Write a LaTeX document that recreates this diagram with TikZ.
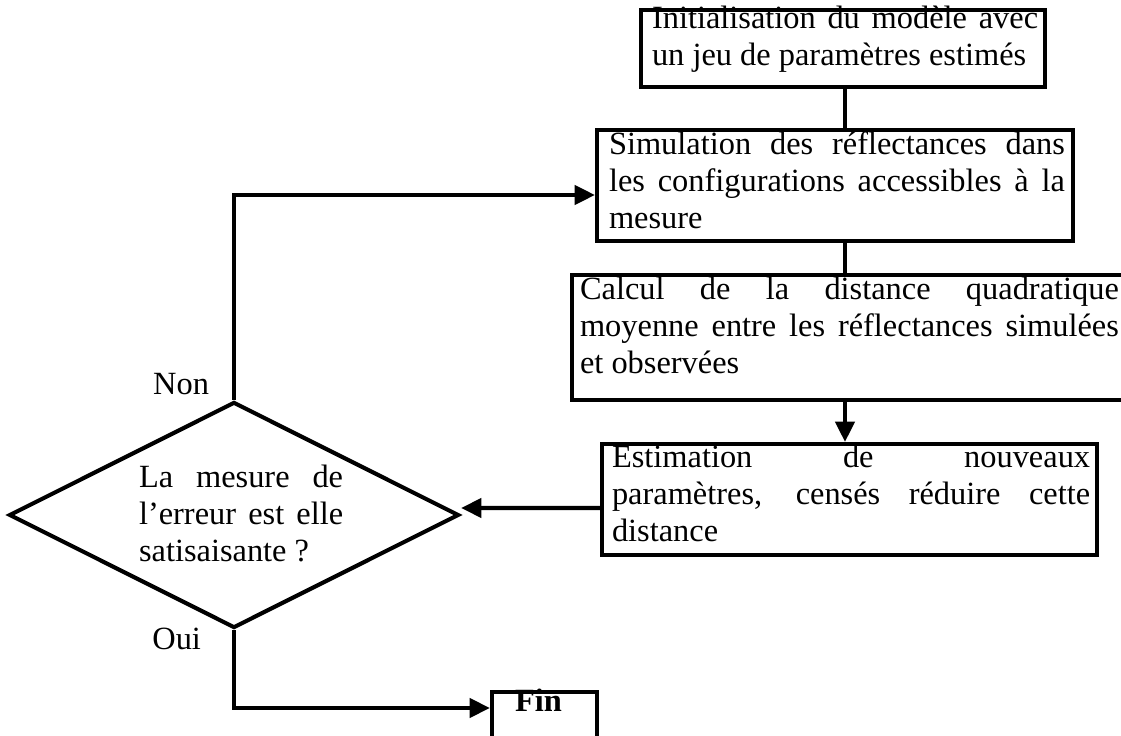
\documentclass[tikz,border=0pt]{standalone}
\usepackage{fontspec}
\setmainfont{Liberation Serif}
\usetikzlibrary{shapes.geometric,arrows.meta,calc}
\newcommand{\jbox}[2]{\parbox[t]{#1}{\hyphenpenalty=10000\exhyphenpenalty=10000\tolerance=10000\relax #2}}
\begin{document}
\begin{tikzpicture}[x=0.3704pt,y=-0.3704pt,
  line width=1.5pt,
  box/.style={draw, rectangle, inner sep=0pt, line width=1.5pt},
  decision/.style={draw, diamond, inner sep=0pt, line width=1.5pt},
  txt/.style={anchor=base west, inner sep=0pt, font=\fontsize{12}{13.7}\selectfont},
  lbl/.style={anchor=base east, inner sep=0pt, font=\fontsize{12}{13.7}\selectfont},
  arr/.style={-{Triangle[length=7.5pt,width=7pt]}}]
\useasboundingbox (0,0) rectangle (1121,736);
\clip (0,0) rectangle (1121,736);
% boxes
\node[box, minimum width=149.6pt, minimum height=28.5pt] (b1) at (843,48.5) {};
\node[box, minimum width=176.3pt, minimum height=41.1pt] (b2) at (835,185.5) {};
\node[box, minimum width=210.4pt, minimum height=46.3pt] (b3) at (856,337.5) {};
\node[box, minimum width=183.4pt, minimum height=41.1pt] (b4) at (849.5,499.5) {};
\node[box, minimum width=38.9pt, minimum height=21.5pt] (fin) at (544.5,721) {};
\node[decision, minimum width=166.7pt, minimum height=83.7pt] (d) at (234,515) {};
% texts
\node[txt] (t1) at (650,29) {\jbox{143pt}{Initialisation du modèle avec\linebreak un jeu de paramètres estimés}};
\node[txt] (t2) at (607,155) {\jbox{168.9pt}{Simulation des réflectances dans\linebreak les configurations accessibles à la\linebreak mesure}};
\node[txt] (t3) at (578,300) {\jbox{199.6pt}{Calcul de la distance quadratique\linebreak moyenne entre les réflectances simulées\linebreak et observées}};
\node[txt] (t4) at (610,468) {\jbox{177.1pt}{Estimation de nouveaux\linebreak paramètres, censés réduire cette\linebreak distance}};
\node[txt] (td) at (137,488) {\jbox{75.6pt}{La mesure de\linebreak l’erreur est elle\linebreak satisaisante ?}};
\node[txt] (tfin) at (513,712) {\textbf{Fin}};
\node[lbl] (non) at (211,395) {Non};
\node[lbl] (oui) at (203,650) {Oui};
% connectors
\coordinate (vx) at (845,0);
\draw (b1.south -| vx) -- (b2.north -| vx);
\draw (b2.south -| vx) -- (b3.north -| vx);
\draw[arr] (b3.south -| vx) -- (b4.north -| vx);
\draw[arr] ($(b4.west)+(0,8.5)$) -- ($(d.east)+(0,-7)$);
\draw[arr] (d.north) |- ($(b2.west)+(0,9.5)$);
\draw[arr] (d.south) |- ($(fin.west)+(0,-13)$);
\end{tikzpicture}
\end{document}
